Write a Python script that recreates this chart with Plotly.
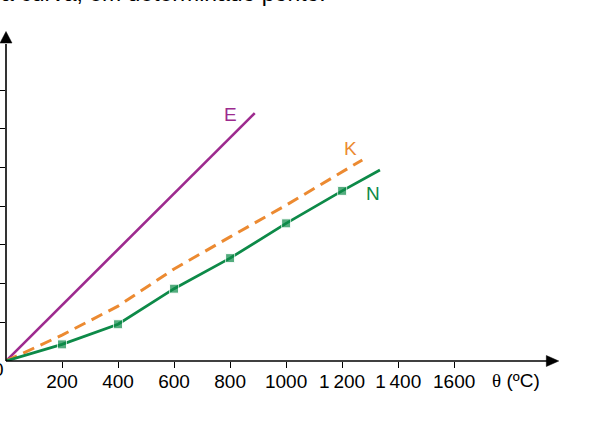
import plotly.graph_objects as go

# ---- data (temperature in °C, emf in mV) ----
e_temp = [0, 888]
e_emf = [0, 64.1]

k_temp = [0, 200, 400, 600, 800, 1000, 1272]
k_emf = [0, 6.7, 14.2, 23.8, 32.1, 40.3, 52.0]

n_temp = [0, 200, 400, 600, 800, 1000, 1200, 1335]
n_emf = [0, 4.3, 9.5, 18.7, 26.6, 35.6, 44.0, 49.4]
n_marked = [False, True, True, True, True, True, True, False]

x_ticks = [200, 400, 600, 800, 1000, 1200, 1400, 1600]
x_tick_labels = ["200", "400", "600", "800", "1000", "1\u2009200", "1\u2009400", "1600"]
y_ticks = [10, 20, 30, 40, 50, 60, 70]

# ---- layout geometry ----
W, H = 615, 425
ML, MB = 3, 64
PX_PER_X = 0.2815
PX_PER_Y = 3.867
X0_PX, Y0_PX = ML, H - MB
PW, PH = W - ML, H - MB

def xp(px):
    return (px - ML) / PW

def yp(py):
    return (PH - py) / PH

PURPLE = "#9d2a8e"
ORANGE = "#ec8a31"
GREEN = "#0d8a48"
FONT = "Arial, Liberation Sans, sans-serif"

fig = go.Figure()
fig.add_trace(go.Scatter(x=e_temp, y=e_emf, mode="lines",
                         line=dict(color=PURPLE, width=2.6), cliponaxis=False,
                         hoverinfo="skip"))
fig.add_trace(go.Scatter(x=k_temp, y=k_emf, mode="lines",
                         line=dict(color=ORANGE, width=3, dash="12px,7px"),
                         cliponaxis=False, hoverinfo="skip"))
fig.add_trace(go.Scatter(x=n_temp, y=n_emf, mode="lines+markers",
                         line=dict(color=GREEN, width=2.8),
                         marker=dict(symbol="square", color=GREEN,
                                     size=[9 if m else 0 for m in n_marked]),
                         cliponaxis=False, hoverinfo="skip"))

shapes = [
    # x axis line + arrow
    dict(type="line", xref="paper", yref="paper", x0=xp(X0_PX), y0=yp(Y0_PX),
         x1=xp(548), y1=yp(Y0_PX), line=dict(color="black", width=1.6)),
    dict(type="path", xref="paper", yref="paper",
         path=f"M {xp(546)} {yp(Y0_PX-5.5)} L {xp(558.5)} {yp(Y0_PX)} L {xp(546)} {yp(Y0_PX+5.5)} Z",
         fillcolor="black", line=dict(color="black", width=0.5)),
    # y axis line + arrow
    dict(type="line", xref="paper", yref="paper", x0=xp(X0_PX), y0=yp(Y0_PX),
         x1=xp(X0_PX), y1=yp(44), line=dict(color="black", width=1.6)),
    dict(type="path", xref="paper", yref="paper",
         path=f"M {xp(X0_PX-6)} {yp(43)} L {xp(X0_PX)} {yp(31.5)} L {xp(X0_PX+6)} {yp(43)} Z",
         fillcolor="black", line=dict(color="black", width=0.5)),
]

def label(text, px, py, size, color, xanchor="center", yanchor="middle"):
    return dict(text=text, x=xp(px), y=yp(py), xref="paper", yref="paper",
                showarrow=False, xanchor=xanchor, yanchor=yanchor,
                font=dict(family=FONT, size=size, color=color))

annotations = [
    label("E", 228.5, 114, 19, PURPLE),
    label("K", 349, 149, 19, ORANGE),
    label("N", 372, 193, 19, GREEN),
    label("<span style='font-family:Liberation Serif, Times New Roman, serif'>θ</span> (ºC)",
          516, 380, 19, "black"),
    label("0", 2.5, 369, 19, "black", xanchor="right"),
    label("a curva, em determinado ponto.", -4.5, 8, 23, "black",
          xanchor="left", yanchor="bottom"),
]

fig.update_layout(
    width=W, height=H,
    margin=dict(l=ML, r=0, t=0, b=MB),
    paper_bgcolor="white", plot_bgcolor="white",
    showlegend=False,
    shapes=shapes, annotations=annotations,
    xaxis=dict(range=[0, PW / PX_PER_X], showgrid=False, zeroline=False,
               showline=False, ticks="outside", ticklen=6, tickwidth=1.4,
               tickcolor="black", tickvals=x_ticks, ticktext=x_tick_labels,
               ticklabelstandoff=-3,
               tickfont=dict(family=FONT, size=19, color="black")),
    yaxis=dict(range=[0, PH / PX_PER_Y], showgrid=False, zeroline=False,
               showline=False, ticks="outside", ticklen=6, tickwidth=1.4,
               tickcolor="black", tickvals=y_ticks, showticklabels=False),
)

fig.write_html("out.html", config={"displayModeBar": False},
               post_script="document.body.style.margin='0';document.body.style.padding='0';")
